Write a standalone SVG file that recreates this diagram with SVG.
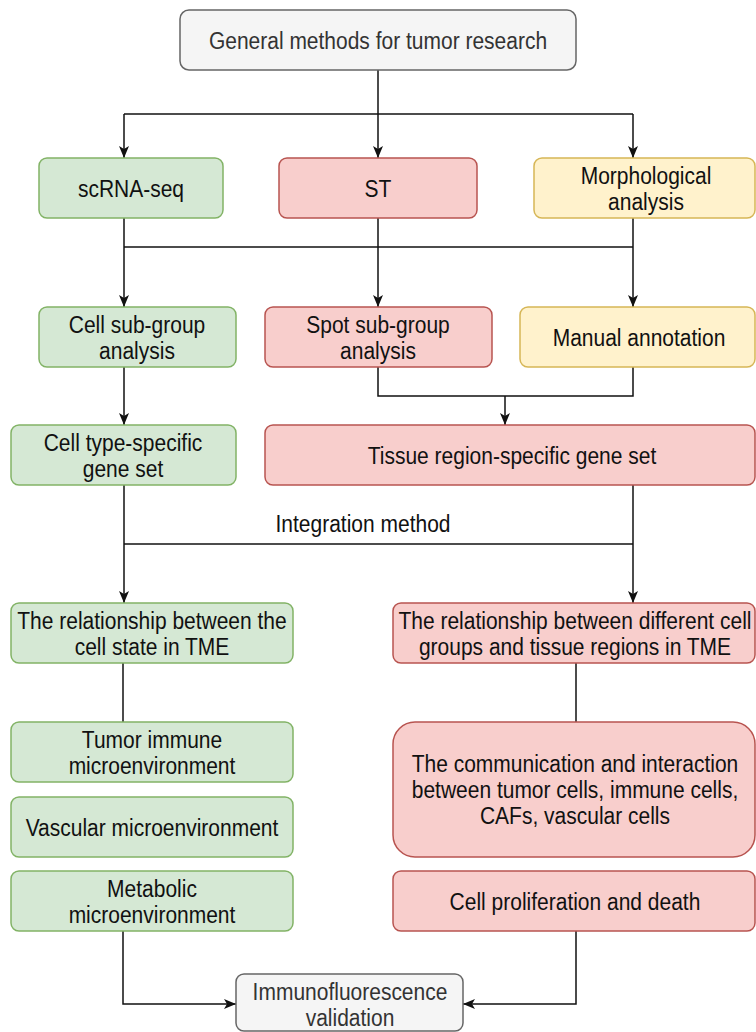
<svg xmlns="http://www.w3.org/2000/svg" width="756" height="1032" viewBox="0 0 756 1032">
<style>
.n rect{stroke-width:1.5}
.g rect{fill:#d5e8d4;stroke:#82b366}
.r rect{fill:#f8cecc;stroke:#b85450}
.y rect{fill:#fff2cc;stroke:#d6b656}
.k rect{fill:#f5f5f5;stroke:#666666}
text{font-family:"Liberation Sans",Arial,sans-serif;font-size:21px;fill:#111;text-anchor:middle;transform-box:fill-box;transform-origin:center;transform:scaleY(1.15)}
.k text{fill:#333}
.e path{fill:none;stroke:#111;stroke-width:1.5}
</style>
<defs>
<marker id="a" viewBox="0 0 12 10" refX="12" refY="5" markerWidth="12" markerHeight="10" markerUnits="userSpaceOnUse" orient="auto">
<path d="M0,0 L12,5 L0,10 L3,5 Z" fill="#111"/>
</marker>
</defs>
<rect width="756" height="1032" fill="#fff"/>
<g class="e">
<path d="M378,70 V158" marker-end="url(#a)"/>
<path d="M124,114 H633"/>
<path d="M124,114 V158" marker-end="url(#a)"/>
<path d="M633,114 V158" marker-end="url(#a)"/>
<path d="M124,218 V307" marker-end="url(#a)"/>
<path d="M378,218 V307" marker-end="url(#a)"/>
<path d="M633,218 V307" marker-end="url(#a)"/>
<path d="M124,247 H633"/>
<path d="M124,367 V425" marker-end="url(#a)"/>
<path d="M378,367 V396 H633 V367"/>
<path d="M505,396 V425" marker-end="url(#a)"/>
<path d="M124,485 V603" marker-end="url(#a)"/>
<path d="M633,485 V603" marker-end="url(#a)"/>
<path d="M124,544 H633"/>
<path d="M123,663 V722"/>
<path d="M576,663 V722"/>
<path d="M123,931 V1004 H236" marker-end="url(#a)"/>
<path d="M576,931 V1004 H463" marker-end="url(#a)"/>
</g>
<text x="363" y="531">Integration method</text>
<g id="top" class="n k"><rect x="180" y="10" width="396" height="60" rx="9"/><text x="378" y="48">General methods for tumor research</text></g>
<g id="scrna" class="n g"><rect x="39" y="158" width="184" height="60" rx="8"/><text x="131" y="196">scRNA-seq</text></g>
<g id="st" class="n r"><rect x="279" y="158" width="198" height="60" rx="8"/><text x="378" y="196">ST</text></g>
<g id="morph" class="n y"><rect x="534" y="158" width="221" height="60" rx="8"/><text x="646" y="183">Morphological</text><text x="646" y="209">analysis</text></g>
<g id="cellsub" class="n g"><rect x="39" y="307" width="197" height="60" rx="8"/><text x="137" y="332">Cell sub-group</text><text x="137" y="358">analysis</text></g>
<g id="spotsub" class="n r"><rect x="265" y="307" width="227" height="60" rx="8"/><text x="378" y="332">Spot sub-group</text><text x="378" y="358">analysis</text></g>
<g id="manual" class="n y"><rect x="520" y="307" width="235" height="60" rx="8"/><text x="639" y="345">Manual annotation</text></g>
<g id="celltype" class="n g"><rect x="11" y="425" width="225" height="60" rx="8"/><text x="123" y="450">Cell type-specific</text><text x="123" y="476">gene set</text></g>
<g id="tissue" class="n r"><rect x="265" y="425" width="490" height="60" rx="8"/><text x="512" y="463">Tissue region-specific gene set</text></g>
<g id="relg" class="n g"><rect x="11" y="603" width="282" height="60" rx="8"/><text x="152" y="628">The relationship between the</text><text x="152" y="654">cell state in TME</text></g>
<g id="relr" class="n r"><rect x="393" y="603" width="362" height="60" rx="8"/><text x="575" y="628">The relationship between different cell</text><text x="575" y="654">groups and tissue regions in TME</text></g>
<g id="tumor" class="n g"><rect x="11" y="722" width="282" height="60" rx="8"/><text x="152" y="747">Tumor immune</text><text x="152" y="773">microenvironment</text></g>
<g id="vasc" class="n g"><rect x="11" y="797" width="282" height="60" rx="8"/><text x="152" y="835">Vascular microenvironment</text></g>
<g id="metab" class="n g"><rect x="11" y="871" width="282" height="60" rx="8"/><text x="152" y="896">Metabolic</text><text x="152" y="922">microenvironment</text></g>
<g id="comm" class="n r"><rect x="393" y="722" width="362" height="135" rx="22"/><text x="575" y="771">The communication and interaction</text><text x="575" y="797">between tumor cells, immune cells,</text><text x="575" y="823">CAFs, vascular cells</text></g>
<g id="prolif" class="n r"><rect x="393" y="871" width="362" height="60" rx="8"/><text x="575" y="909">Cell proliferation and death</text></g>
<g id="immuno" class="n k"><rect x="236" y="974" width="227" height="57" rx="8"/><text x="350" y="999">Immunofluorescence</text><text x="350" y="1025">validation</text></g>
</svg>
